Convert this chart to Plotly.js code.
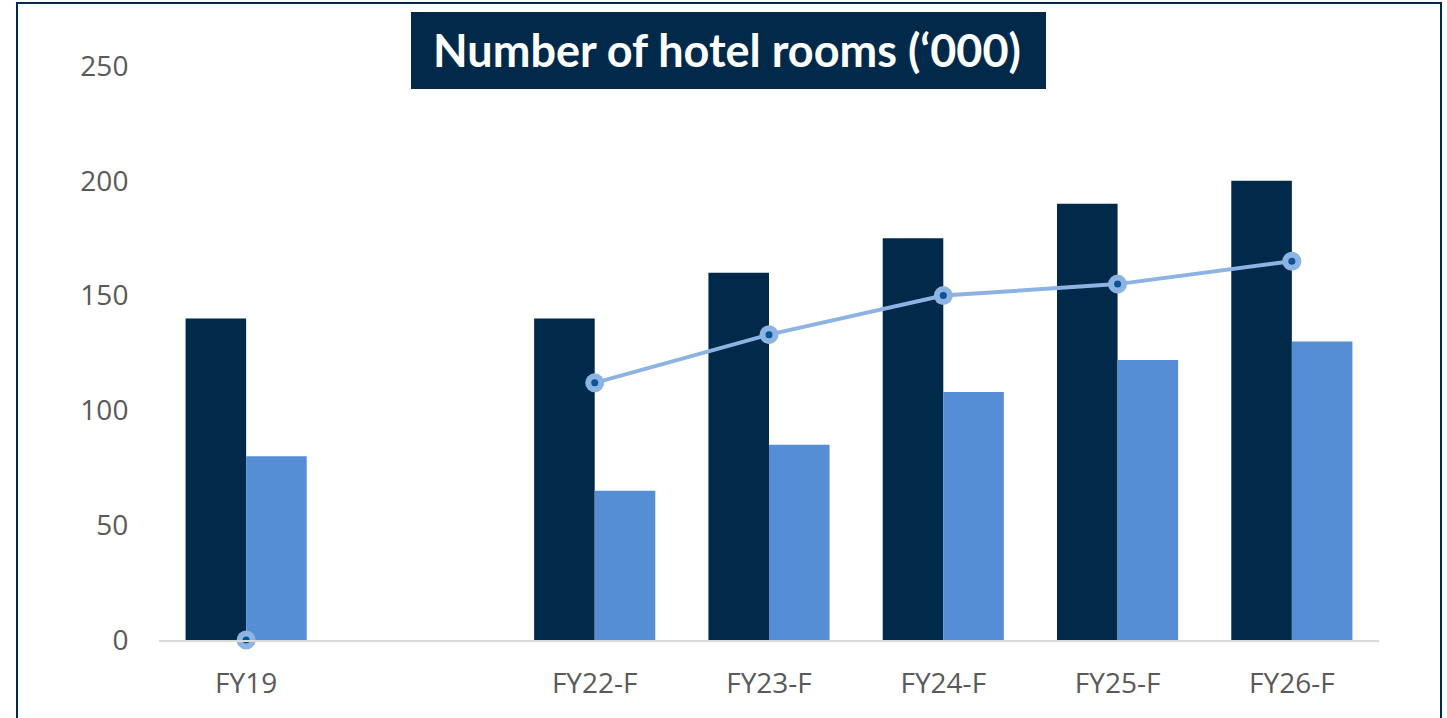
<!DOCTYPE html>
<html>
<head>
<meta charset="utf-8">
<script src="https://cdn.plot.ly/plotly-3.0.1.min.js"></script>
<style>html,body{margin:0;padding:0;background:#fff;}#chart{width:1447px;height:718px;}</style>
</head>
<body>
<div id="chart"></div>
<script>
var categories = ["FY19", " ", "FY22-F", "FY23-F", "FY24-F", "FY25-F", "FY26-F"];
var seriesDark = [140, null, 140, 160, 175, 190, 200];
var seriesLight = [80, null, 65, 85, 108, 122, 130];
var seriesLine = [0, null, 112, 133, 150, 155, 165];
var yTicks = [0, 50, 100, 150, 200, 250];

var W = 1447, H = 718, L = 159, R = 68, T = 66, B = 78;
var pw = W - L - R, ph = H - T - B;
function px(x){ return (x - L) / pw; }
function py(y){ return (H - B - y) / ph; }

var traces = [
  {type: "bar", x: categories, y: seriesDark, marker: {color: "#012A4A"}, name: "Series 1", hoverinfo: "x+y"},
  {type: "bar", x: categories, y: seriesLight, marker: {color: "#558ED5"}, name: "Series 2", hoverinfo: "x+y"},
  {type: "scatter", mode: "lines+markers", x: categories, y: seriesLine, connectgaps: false,
   line: {color: "#8DB3E2", width: 4}, marker: {color: "#8DB3E2", size: 19}, name: "Series 3", cliponaxis: false},
  {type: "scatter", mode: "markers", x: categories, y: seriesLine,
   marker: {color: "#0B5394", size: 7}, name: "Series 3 dot", hoverinfo: "skip", cliponaxis: false}
];

var layout = {
  width: W, height: H,
  margin: {l: L, r: R, t: T, b: B},
  paper_bgcolor: "#ffffff", plot_bgcolor: "#ffffff",
  showlegend: false,
  barmode: "group", bargap: 0.305, bargroupgap: 0,
  font: {family: "Open Sans, sans-serif", color: "#595959", size: 28},
  title: {text: "<b>Number of hotel rooms (‘000)</b>", x: 727 / W, xanchor: "center",
          y: 1 - 51 / H, yanchor: "middle", font: {family: "Lato, Open Sans, sans-serif", size: 45, color: "#ffffff"}},
  xaxis: {type: "category", range: [-0.5, 6.5], showgrid: false, zeroline: false,
          showline: true, linecolor: "#D9D9D9", linewidth: 2,
          ticks: "outside", ticklen: 17, tickcolor: "rgba(0,0,0,0)",
          tickfont: {size: 28, color: "#595959"}, fixedrange: true},
  yaxis: {range: [0, 250], tickvals: yTicks, showgrid: false, zeroline: false, showline: false,
          ticks: "outside", ticklen: 24, tickcolor: "rgba(0,0,0,0)",
          tickfont: {size: 28, color: "#595959"}, fixedrange: true},
  shapes: [
    {type: "rect", xref: "paper", yref: "paper", x0: px(17), x1: px(1441), y0: py(3), y1: py(730),
     line: {color: "#012A4A", width: 2}, fillcolor: "rgba(0,0,0,0)", layer: "below"},
    {type: "rect", xref: "paper", yref: "paper", x0: px(411), x1: px(1046), y0: py(12), y1: py(89),
     line: {width: 0}, fillcolor: "#012A4A", layer: "below"}
  ]
};

Plotly.newPlot("chart", traces, layout, {displayModeBar: false});
</script>
</body>
</html>
